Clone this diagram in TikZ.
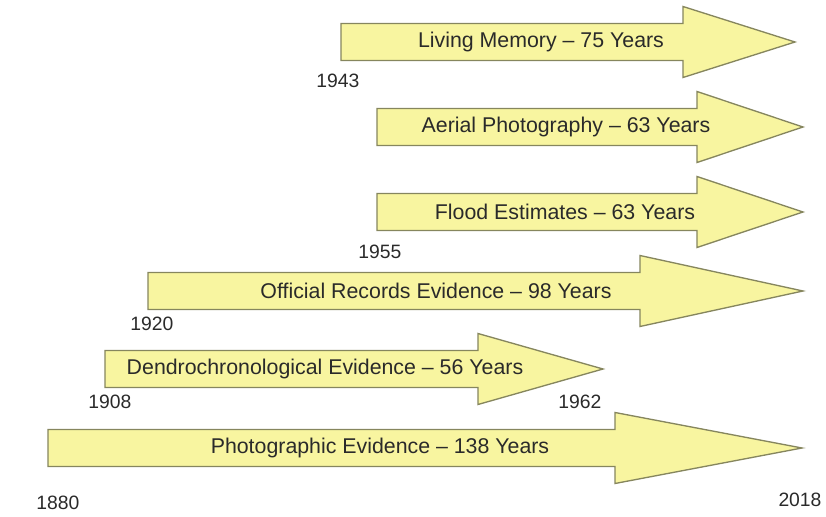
\documentclass[tikz,border=0pt]{standalone}
\usepackage{fontspec}
\setmainfont{Liberation Sans}
\usetikzlibrary{positioning}
\definecolor{barfill}{HTML}{F8F5A0}
\definecolor{barline}{HTML}{86865E}
\definecolor{txt}{HTML}{2A2A2A}

\begin{document}
\begin{tikzpicture}[x=0.75pt,y=-0.75pt,bar/.style={draw=barline,fill=barfill,line width=1pt,line join=miter},lbl/.style={font=\fontsize{16}{19}\selectfont,text=txt,inner sep=0pt},yr/.style={font=\fontsize{14.5}{17}\selectfont,text=txt,inner sep=0pt}]
\useasboundingbox (0,0) rectangle (826,517);
% name/left/head base/tip/y/text x/text
\foreach \n/\l/\b/\t/\y/\tx/\s in {mem/341/683/795/42/541/Living Memory -- 75 Years,aer/377/697/803/127/566/Aerial Photography -- 63 Years,fld/377/697/803/212/565/Flood Estimates -- 63 Years,off/148/640/803/291/436/Official Records Evidence -- 98 Years,den/105/478/603/369/325/Dendrochronological Evidence -- 56 Years,pho/48/615/802/448/380/Photographic Evidence -- 138 Years}{
\draw[bar] (\l,\y-18.5) -- (\b,\y-18.5) -- (\b,\y-35.5) -- (\t,\y) -- (\b,\y+35.5) -- (\b,\y+18.5) -- (\l,\y+18.5) -- cycle;
\node[lbl] (\n) at (\tx,\y) {\s};
}
\node[yr] (y1943) at (338,81) {1943};
\node[yr] (y1955) at (380,252) {1955};
\node[yr] (y1920) at (152,324) {1920};
\node[yr] (y1908) at (110,402) {1908};
\node[yr] (y1962) at (580,402) {1962};
\node[yr] (y1880) at (58,503) {1880};
\node[yr] (y2018) at (800,500) {2018};
\end{tikzpicture}
\end{document}
